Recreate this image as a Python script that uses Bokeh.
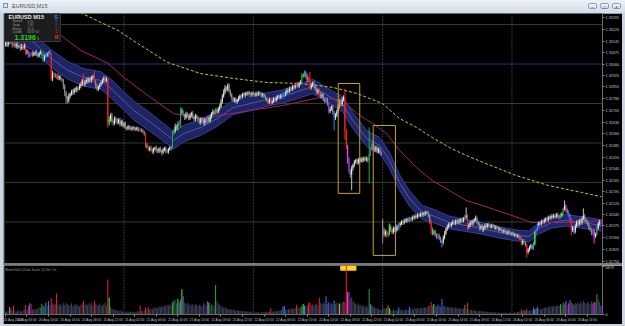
from bokeh.plotting import figure
from bokeh.models import Range1d, FixedTicker, PrintfTickFormatter, Span, Label, Div, ColumnDataSource
from bokeh.layouts import column
from bokeh.embed import file_html
from bokeh.resources import INLINE

# ---------------- data (prices in points above BASE) ----------------
BASE = 1.31700
POINT = 0.00001

close_pts = [
    1432, 1418, 1440, 1452, 1436, 1421, 1430, 1412, 1425, 1408, 1415, 1398, 1410, 1402, 1420, 1372, 1380, 1350, 1362, 1371,
    1358, 1366, 1375, 1360, 1352, 1368, 1374, 1361, 1330, 1345, 1356, 1362, 1375, 1368, 1205, 1240, 1232, 1220, 1228, 1210,
    1218, 1205, 1200, 1160, 1120, 1085, 1070, 1095, 1110, 1125, 1118, 1140, 1132, 1150, 1145, 1160, 1172, 1195, 1170, 1185,
    1200, 1190, 1208, 1195, 1215, 1222, 1185, 1160, 1140, 1155, 1170, 1182, 1200, 1210, 1195, 1205, 930, 950, 975, 940,
    925, 955, 942, 930, 948, 920, 935, 910, 925, 898, 890, 905, 895, 888, 900, 892, 885, 896, 890, 880,
    885, 878, 872, 860, 790, 775, 760, 770, 758, 745, 762, 770, 755, 748, 765, 752, 740, 758, 768, 750,
    745, 760, 772, 765, 860, 875, 905, 890, 920, 935, 1010, 990, 975, 960, 985, 970, 955, 978, 990, 965,
    950, 972, 960, 945, 930, 955, 940, 925, 950, 935, 960, 940, 965, 985, 1000, 990, 1010, 998, 1015, 1030,
    1060, 1095, 1120, 1150, 1140, 1165, 1130, 1105, 1085, 1070, 1078, 1060, 1072, 1085, 1100, 1095, 1110, 1102, 1115, 1108,
    1120, 1112, 1105, 1118, 1110, 1102, 1115, 1108, 1120, 1112, 1100, 1108, 1095, 1085, 1070, 1060, 1075, 1055, 1065, 1080,
    1070, 1085, 1095, 1088, 1100, 1092, 1110, 1105, 1120, 1135, 1128, 1145, 1140, 1155, 1150, 1165, 1172, 1160, 1178, 1185,
    1225, 1230, 1245, 1220, 1195, 1210, 1150, 1165, 1178, 1160, 1140, 1120, 1135, 1110, 1095, 1105, 1080, 1065, 1075, 1050,
    1000, 1015, 1030, 995, 960, 975, 1000, 1030, 1060, 1045, 1075, 1090, 880, 780, 700, 620, 600, 640, 660, 680,
    690, 675, 695, 685, 700, 690, 705, 695, 700, 690, 730, 760, 790, 770, 755, 770, 745, 760, 740, 730,
    250, 220, 240, 215, 230, 270, 250, 235, 260, 245, 270, 255, 280, 290, 300, 295, 310, 305, 318, 310,
    322, 315, 330, 325, 338, 332, 345, 340, 350, 345, 355, 350, 362, 358, 340, 300, 250, 230, 240, 220,
    205, 215, 195, 180, 170, 200, 230, 255, 270, 285, 278, 290, 300, 292, 305, 298, 310, 302, 315, 308,
    320, 330, 340, 270, 280, 300, 290, 305, 315, 325, 300, 285, 260, 275, 250, 265, 280, 270, 285, 275,
    268, 280, 272, 260, 270, 262, 250, 258, 245, 238, 248, 235, 228, 240, 232, 225, 230, 218, 222, 210,
    215, 205, 195, 165, 180, 170, 155, 110, 125, 140, 150, 135, 160, 235, 255, 280, 295, 290, 305, 300,
    312, 320, 315, 330, 325, 338, 332, 340, 335, 345, 338, 330, 342, 350, 385, 400, 375, 360, 345, 320,
    250, 265, 240, 275, 300, 285, 310, 295, 320, 340, 315, 300, 290, 265, 250, 230, 245, 210, 220, 260,
    290, 300, 285,
]

wick_up_pts = [
    18, 12, 22, 10, 15, 20, 8, 14, 11, 16, 9, 13, 18, 7, 12, 10, 15, 9, 12, 8,
    14, 10, 7, 16, 12, 9, 13, 8, 11, 15, 10, 12, 8, 14, 0, 18, 9, 12, 7, 15,
    10, 13, 8, 6, 12, 9, 14, 18, 10, 12, 16, 9, 13, 11, 8, 15, 12, 10, 45, 14,
    11, 17, 9, 13, 10, 12, 37, 14, 16, 9, 12, 10, 8, 13, 15, 11, 10, 20, 12, 18,
    9, 14, 11, 16, 8, 12, 10, 15, 9, 11, 7, 10, 8, 12, 6, 9, 11, 7, 8, 10,
    9, 8, 11, 6, 5, 12, 10, 8, 14, 9, 11, 7, 13, 10, 8, 12, 9, 11, 7, 10,
    12, 9, 8, 10, 19, 14, 18, 12, 16, 10, 15, 12, 17, 10, 14, 9, 13, 11, 8, 12,
    10, 13, 9, 12, 15, 8, 11, 14, 9, 12, 13, 10, 16, 11, 14, 9, 12, 10, 13, 15,
    18, 14, 20, 16, 10, 12, 13, 9, 11, 8, 10, 12, 9, 11, 7, 10, 8, 12, 9, 10,
    8, 11, 9, 7, 10, 8, 12, 9, 10, 6, 9, 11, 8, 10, 7, 9, 12, 8, 10, 11,
    9, 12, 10, 8, 13, 11, 15, 9, 12, 14, 10, 13, 11, 15, 9, 12, 10, 14, 11, 13,
    15, 12, 14, 10, 18, 12, 40, 14, 11, 16, 10, 13, 9, 12, 15, 10, 13, 9, 11, 14,
    12, 16, 10, 13, 9, 15, 12, 18, 20, 14, 16, 12, 55, 10, 8, 12, 14, 16, 10, 12,
    9, 13, 10, 8, 12, 10, 9, 11, 13, 10, 169, 14, 12, 16, 10, 13, 9, 12, 10, 8,
    10, 14, 12, 9, 11, 20, 13, 10, 12, 9, 14, 11, 13, 10, 12, 9, 11, 13, 10, 12,
    11, 9, 12, 10, 13, 9, 11, 10, 12, 8, 10, 12, 9, 11, 10, 8, 12, 14, 11, 10,
    9, 13, 10, 12, 8, 15, 12, 10, 14, 11, 12, 9, 13, 10, 12, 11, 9, 12, 10, 13,
    12, 15, 52, 10, 12, 9, 13, 11, 10, 16, 10, 9, 12, 8, 11, 10, 9, 12, 8, 10,
    9, 10, 8, 11, 9, 7, 10, 8, 9, 7, 10, 8, 9, 11, 7, 9, 8, 10, 7, 9,
    8, 10, 9, 7, 12, 10, 8, 9, 11, 10, 12, 9, 14, 11, 10, 12, 9, 13, 10, 11,
    12, 10, 13, 11, 9, 12, 10, 13, 11, 12, 14, 10, 13, 12, 7, 36, 12, 10, 14, 11,
    9, 12, 10, 14, 11, 13, 10, 12, 15, 46, 11, 10, 13, 9, 12, 10, 14, 11, 13, 15,
    12, 14, 10,
]

wick_dn_pts = [
    14, 10, 9, 16, 12, 18, 11, 9, 14, 12, 10, 15, 8, 13, 11, 15, 12, 10, 9, 14,
    12, 9, 15, 11, 13, 10, 8, 14, 20, 12, 9, 11, 13, 10, 10, 14, 12, 9, 16, 11,
    13, 10, 15, 18, 22, 35, 20, 14, 12, 10, 15, 11, 9, 13, 12, 10, 14, 11, 9, 12,
    10, 13, 11, 9, 14, 12, 8, 15, 12, 10, 13, 11, 9, 14, 10, 12, 32, 18, 14, 16,
    15, 12, 18, 14, 11, 16, 13, 10, 14, 12, 11, 9, 13, 10, 12, 8, 11, 9, 12, 10,
    12, 9, 11, 14, 20, 12, 10, 13, 11, 14, 12, 10, 15, 11, 13, 12, 19, 10, 12, 14,
    11, 13, 9, 12, 0, 10, 12, 9, 11, 13, 40, 12, 10, 14, 11, 13, 12, 10, 15, 11,
    12, 14, 10, 13, 11, 15, 12, 10, 14, 11, 13, 12, 9, 11, 10, 12, 9, 13, 11, 10,
    8, 10, 9, 12, 11, 14, 16, 12, 15, 11, 13, 10, 12, 9, 11, 10, 12, 9, 11, 10,
    9, 11, 10, 12, 8, 10, 9, 11, 10, 12, 9, 13, 10, 14, 12, 15, 11, 13, 10, 12,
    11, 10, 12, 9, 11, 10, 13, 12, 10, 11, 9, 12, 10, 11, 13, 9, 12, 10, 11, 9,
    10, 12, 11, 14, 13, 11, 15, 12, 10, 14, 12, 11, 13, 15, 12, 10, 14, 12, 11, 15,
    14, 12, 10, 16, 81, 14, 12, 10, 11, 13, 12, 10, 60, 20, 30, 13, 20, 100, 15, 12,
    11, 14, 10, 12, 9, 13, 11, 10, 12, 14, 146, 12, 10, 13, 11, 14, 12, 10, 13, 11,
    86, 14, 12, 13, 10, 12, 14, 11, 13, 10, 12, 11, 9, 12, 10, 13, 11, 9, 12, 10,
    11, 10, 12, 9, 11, 10, 12, 11, 9, 10, 12, 11, 10, 9, 12, 15, 30, 14, 12, 13,
    12, 14, 11, 13, 31, 12, 10, 13, 11, 12, 10, 13, 11, 9, 12, 10, 11, 13, 10, 12,
    11, 10, 12, 25, 14, 12, 10, 13, 11, 12, 14, 11, 15, 10, 13, 11, 12, 10, 11, 9,
    10, 9, 11, 8, 10, 9, 12, 8, 10, 11, 9, 10, 8, 11, 9, 10, 12, 9, 11, 10,
    9, 11, 10, 14, 12, 13, 11, 35, 14, 12, 13, 11, 12, 10, 13, 12, 11, 10, 12, 11,
    10, 12, 11, 13, 10, 12, 11, 10, 12, 11, 13, 12, 10, 11, 9, 12, 14, 13, 12, 15,
    35, 14, 16, 13, 12, 14, 11, 13, 12, 10, 14, 12, 13, 15, 12, 14, 13, 46, 12, 10,
    11, 13, 12,
]

volume = [
    420, 380, 510, 1100, 900, 460, 1300, 520, 390, 610, 480, 550, 430, 620, 700, 1400, 680, 1200, 1600, 1500,
    760, 640, 820, 700, 910, 1050, 980, 1500, 1200, 1100, 1700, 1250, 1900, 1400, 2300, 1600, 1350, 1500, 3000, 1450,
    1300, 1550, 1200, 1650, 1400, 1750, 1500, 1250, 1380, 1600, 1180, 1420, 1300, 1550, 1250, 1100, 1400, 1650, 1900, 1350,
    1500, 1280, 1600, 1420, 1750, 1300, 2000, 1550, 1400, 1250, 1600, 1350, 1200, 1450, 1700, 1300, 5000, 2400, 1100, 900,
    800, 650, 700, 560, 480, 620, 520, 400, 350, 300, 420, 380, 310, 450, 360, 280, 400, 330, 470, 380,
    1300, 520, 460, 600, 1000, 700, 1100, 650, 820, 760, 900, 1050, 880, 980, 1150, 1020, 1250, 1100, 1300, 1180,
    1400, 1250, 1500, 1350, 1700, 2000, 2100, 1600, 2200, 1800, 2100, 3600, 2600, 1700, 1500, 1650, 1400, 1550, 1300, 1450,
    1250, 1500, 1350, 1200, 1400, 1300, 1150, 1600, 1450, 1250, 1900, 1700, 1300, 1500, 1400, 1250, 4200, 1900, 1600, 1350,
    1200, 1100, 950, 1050, 880, 760, 820, 700, 640, 720, 600, 560, 650, 520, 480, 580, 450, 520, 420, 380,
    460, 400, 350, 420, 300, 260, 340, 280, 320, 250, 300, 360, 280, 330, 400, 350, 420, 900, 380, 450,
    420, 520, 480, 560, 650, 600, 1100, 1200, 720, 680, 800, 750, 900, 850, 780, 950, 1400, 1000, 1100, 950,
    1200, 1500, 1300, 1150, 1250, 1600, 1700, 1350, 1450, 1200, 1550, 1400, 1300, 2400, 1650, 1500, 1700, 1450, 2600, 1550,
    1800, 1500, 1650, 1400, 2000, 1550, 1700, 1450, 1600, 1500, 1750, 1900, 1800, 9500, 3200, 3200, 2200, 2500, 1900, 1700,
    1500, 1350, 1600, 1250, 1400, 1150, 1300, 1050, 1200, 1000, 3600, 1500, 1300, 950, 1100, 850, 900, 780, 700, 650,
    1300, 900, 750, 1000, 1300, 900, 680, 600, 720, 550, 640, 580, 1000, 620, 700, 560, 650, 600, 720, 680,
    1100, 750, 820, 700, 880, 760, 950, 850, 900, 1000, 920, 1050, 980, 1100, 1200, 1350, 1800, 1300, 1500, 1200,
    1100, 1400, 1250, 1150, 2200, 1300, 1200, 1050, 1150, 1000, 1100, 950, 1050, 900, 1000, 880, 950, 820, 900, 800,
    850, 1400, 900, 1700, 700, 620, 680, 560, 600, 520, 480, 560, 450, 500, 420, 380, 450, 360, 400, 330,
    380, 300, 350, 280, 320, 260, 300, 240, 280, 230, 260, 300, 250, 220, 280, 240, 300, 260, 330, 290,
    360, 420, 380, 700, 450, 650, 500, 800, 550, 600, 520, 650, 1000, 700, 900, 1100, 750, 820, 700, 880,
    950, 1050, 900, 1150, 1000, 1200, 1100, 1300, 1150, 1250, 1350, 1200, 1500, 1300, 1700, 1450, 1900, 1400, 1600, 2100,
    1800, 1500, 1400, 1650, 1550, 1750, 1500, 1850, 1600, 1950, 1700, 1550, 1800, 1650, 1500, 1900, 1600, 1800, 1700, 2900,
    2200, 1800, 1300,
]

first_open_pts = 1425
gap_bar = 280          # Monday 25 Aug 00:00 open after the weekend
gap_open_pts = 310

red_bars = [6, 15, 19, 34, 36, 38, 58, 66, 76, 100, 104, 106, 197, 216, 225, 226, 233, 252, 253, 283, 316, 343, 383, 387, 420]
lime_bars = [77, 128, 131, 151, 221, 285, 318, 393]
green_bars = [3, 27, 28, 124, 125, 130, 156, 220, 270, 272, 284, 341, 385, 412, 414, 439]
blue_bars = [18, 30, 32, 206, 207, 222, 238, 244, 292, 300, 324, 392, 395, 419, 422]
purple_bars = [4, 17, 129, 132, 150, 240, 255, 271, 321, 394, 418, 436, 442]
magenta_bars = [254, 416, 437]
gold_bars = [248]

price_labels = ["1.33295", "1.33220", "1.33145", "1.33075", "1.33000", "1.32925", "1.32855", "1.32780",
                "1.32705", "1.32630", "1.32560", "1.32485", "1.32410", "1.32340", "1.32265", "1.32195",
                "1.32120", "1.32045", "1.31975", "1.31900", "1.31825", "1.31750"]
time_labels = ["20 Aug 2014", "20 Aug 06:00", "20 Aug 10:00", "20 Aug 14:00", "20 Aug 18:00", "20 Aug 22:00",
               "21 Aug 02:00", "21 Aug 06:00", "21 Aug 10:00", "21 Aug 14:00", "21 Aug 18:00", "21 Aug 22:00",
               "22 Aug 02:00", "22 Aug 06:00", "22 Aug 10:00", "22 Aug 14:00", "22 Aug 18:00", "22 Aug 22:00",
               "25 Aug 02:00", "25 Aug 06:00", "25 Aug 10:00", "25 Aug 14:00", "25 Aug 18:00", "25 Aug 22:00",
               "26 Aug 02:00", "26 Aug 06:00", "26 Aug 10:00", "26 Aug 14:00"]
LABEL_STEP_BARS = 16
day_start_bars = [88, 184, 280, 376]

# moving-average band (centre and half width, points) read at bar positions
band_bar = [0, 19.2, 34, 46.5, 58.3, 70.9, 78.3, 95.3, 107.8, 120.4, 124.8, 132.2, 144.8, 157.3, 169.1, 181.7,
            194.2, 206.1, 228.2, 243, 250.4, 257.8, 268.1, 277.7, 285.1, 292.5, 299.9, 309.5, 316.8, 329.4,
            342, 353.8, 366.3, 378.9, 388.5, 395.9, 405.5, 415.8, 427.6, 442.4]
band_pts = [1525, 1449, 1335, 1259, 1215, 1196, 1145, 1006, 930, 848, 816, 860, 898, 955, 1025, 1050,
            1076, 1095, 1158, 1082, 1044, 943, 829, 785, 690, 550, 449, 360, 341, 297,
            278, 259, 234, 215, 208, 259, 297, 310, 297, 278]
band_half_pts = [55, 55, 55, 55, 55, 55, 58, 60, 58, 55, 55, 52, 50, 48, 45, 45, 42, 42, 45, 45,
                 48, 50, 50, 50, 50, 50, 48, 45, 42, 40, 38, 36, 35, 35, 35, 35, 35, 36, 36, 36]

ma_slow_bar = [26.6, 39.1, 56.1, 76.1, 87.9, 107.8, 124.8, 144.8, 159.5, 181.7, 206.1, 233.4, 250.4, 260.7,
               272.5, 282.9, 292.5, 305, 316.8, 329.4, 342, 353.8, 371.5, 390.7, 405.5, 423.2, 442.4]
ma_slow_pts = [1563, 1494, 1386, 1304, 1215, 1088, 987, 955, 974, 1006, 1038, 1088, 1069, 987,
               924, 860, 753, 645, 563, 500, 436, 405, 354, 297, 297, 297, 310]

ma_long_bar = [52.4, 70.9, 83.5, 100.4, 120.4, 144.8, 169.1, 194.2, 218.6, 243, 260.7, 279.9, 292.5, 305,
               316.8, 329.4, 342, 356.7, 378.9, 403, 427.6, 442.4]
ma_long_pts = [1639, 1563, 1513, 1418, 1310, 1240, 1209, 1183, 1177, 1152, 1114, 1050, 955, 899,
               835, 772, 721, 670, 595, 531, 487, 460]

level_prices = [1.3325, 1.3300, 1.3275, 1.3250, 1.3225, 1.3200]
level_colors = ["#3c3c24", "#2e2b7a", "#3c3c24", "#26402a", "#3c3c24", "#3c3c24"]

box_left_bar = [247, 273]
box_right_bar = [263, 289.5]
box_top_pts = [1177, 911]
box_bottom_pts = [481, 88]

vol_axis_ticks = [0, 6879]

# ---------------- styling / layout ----------------
FONT = "Liberation Sans"
C_RED, C_LIME, C_GREEN = "#ff1f1f", "#3dff3d", "#20b040"
C_BLUE, C_PURPLE, C_MAGENTA, C_GOLD = "#1e8fff", "#9b35ff", "#ff40ff", "#d6a51c"
BULL, BULL_WICK = "#ececec", "#c4c4c4"
BEAR, BEAR_WICK = "#8e8e8e", "#8e8e8e"
VOL_DEFAULT = "#40435e"
CHROME = "#cbd5e1"

W_FIG = 619
H_MAIN = 250
H_VOL = 59
MB_L, MB_R = 1, 18
FRAME_W = W_FIG - MB_L - MB_R
X_START, X_END = -0.7, 443.2
Y_BOT, Y_TOP = 1.31737, 1.33320
FRAME_X0, FRAME_Y0 = 3 + MB_L, 13


def price(v):
    return BASE + v * POINT


def bx(px):
    return X_START + (px - FRAME_X0) * (X_END - X_START) / FRAME_W


def py(pyv):
    return Y_TOP - (pyv - FRAME_Y0) * (Y_TOP - Y_BOT) / H_MAIN


n = min(len(close_pts), len(wick_up_pts), len(wick_dn_pts), len(volume))
bar_color = {}
for bars, col in ((green_bars, C_GREEN), (lime_bars, C_LIME), (blue_bars, C_BLUE), (purple_bars, C_PURPLE),
                  (magenta_bars, C_MAGENTA), (gold_bars, C_GOLD), (red_bars, C_RED)):
    for b in bars:
        bar_color[b] = col

cd = dict(x=[], top=[], bottom=[], high=[], low=[], body=[], wick=[], vol=[], vcol=[])
for i in range(n):
    if i == 0:
        o = first_open_pts
    elif i == gap_bar:
        o = gap_open_pts
    else:
        o = close_pts[i - 1]
    c = close_pts[i]
    top, bot = max(o, c), min(o, c)
    hi, lo = top + wick_up_pts[i], bot - wick_dn_pts[i]
    if top - bot < 3:
        top = bot + 3
    if i in bar_color:
        bc = wc = vc = bar_color[i]
    elif c >= o:
        bc, wc, vc = BULL, BULL_WICK, VOL_DEFAULT
    else:
        bc, wc, vc = BEAR, BEAR_WICK, VOL_DEFAULT
    cd["x"].append(i)
    cd["top"].append(price(top))
    cd["bottom"].append(price(bot))
    cd["high"].append(price(hi))
    cd["low"].append(price(lo))
    cd["body"].append(bc)
    cd["wick"].append(wc)
    cd["vol"].append(volume[i])
    cd["vcol"].append(vc)
src = ColumnDataSource(cd)

# ---------------- main price panel ----------------
p = figure(width=W_FIG, height=H_MAIN, x_range=Range1d(X_START, X_END), y_range=Range1d(Y_BOT, Y_TOP),
           output_backend="svg", toolbar_location=None, x_axis_location=None, y_axis_location="right",
           min_border_left=MB_L, min_border_right=MB_R, min_border_top=0, min_border_bottom=0,
           background_fill_color="black", border_fill_color="black", outline_line_color=None,
           margin=(0, 3, 0, 3))
p.grid.visible = False
ya = p.yaxis[0]
ya.ticker = FixedTicker(ticks=[float(s) for s in price_labels])
ya.formatter = PrintfTickFormatter(format="%.5f")
ya.major_label_text_font_size = "3.8px"
ya.major_label_text_font = FONT
ya.major_label_text_color = "#c0c0c0"
ya.major_tick_out = 2
ya.major_tick_in = 0
ya.major_label_standoff = 1
ya.minor_tick_line_color = None
ya.major_tick_line_color = "#8a8a8a"
ya.axis_line_color = "#6a6a6a"

for lp, lc in zip(level_prices, level_colors):
    p.add_layout(Span(location=lp, dimension="width", line_color=lc, line_width=1, level="underlay"))
for db in day_start_bars:
    p.add_layout(Span(location=db, dimension="height", line_color="#6a6a6a", line_width=1,
                      line_dash="1 2", level="underlay"))

# band
b_up = [price(c + h) for c, h in zip(band_pts, band_half_pts)]
b_lo = [price(c - h) for c, h in zip(band_pts, band_half_pts)]
p.varea(x=band_bar, y1=b_lo, y2=b_up, fill_color="#1c2160", fill_alpha=1)
for frac, col, lw in ((0.66, "#283075", 0.6), (0.33, "#2b337c", 0.6)):
    p.line(band_bar, [price(c + h * frac) for c, h in zip(band_pts, band_half_pts)], line_color=col, line_width=lw)
    p.line(band_bar, [price(c - h * frac) for c, h in zip(band_pts, band_half_pts)], line_color=col, line_width=lw)
p.line(band_bar, b_up, line_color="#39429a", line_width=1)
p.line(band_bar, b_lo, line_color="#39429a", line_width=1)
p.line(band_bar, [price(c) for c in band_pts], line_color="#8686c4", line_width=0.6)

p.line(ma_slow_bar, [price(v) for v in ma_slow_pts], line_color="#a0246a", line_width=1)
p.line(ma_long_bar, [price(v) for v in ma_long_pts], line_color="#c8c81e", line_width=1, line_dash="3 2")

p.segment(x0="x", y0="low", x1="x", y1="high", line_color="wick", line_width=1, source=src)
p.vbar(x="x", top="top", bottom="bottom", width=0.72, fill_color="body", line_color=None, source=src)

p.quad(left=box_left_bar, right=box_right_bar, top=[price(v) for v in box_top_pts],
       bottom=[price(v) for v in box_bottom_pts], fill_alpha=0, line_color="#c9a227", line_width=1)

# info panel (screen overlay, placed in pixels)
p.quad(left=[bx(4)], right=[bx(60)], top=[py(13)], bottom=[py(41)], fill_color="#1d1d1d",
       line_color="#3c3c3c", line_width=1)
info = [
    (8, 16.5, "EURUSD  M15", "5.5px", "bold", "#e8e8e8"),
    (54, 16.5, "S", "5.5px", "bold", "#2f8fe8"),
    (12, 20.6, "Spread", "3px", "normal", "#9a9a9a"),
    (27, 20.6, "0.10", "3px", "normal", "#9a9a9a"),
    (12, 24.2, "Swap", "3px", "normal", "#9a9a9a"),
    (27, 24.2, "1.90", "3px", "normal", "#9a9a9a"),
    (12, 27.8, "Range", "3px", "normal", "#9a9a9a"),
    (27, 27.8, "22.4", "3px", "normal", "#9a9a9a"),
    (12, 31.4, "Candle", "3px", "normal", "#9a9a9a"),
    (27, 31.4, "00:07:10", "3px", "normal", "#9a9a9a"),
    (55, 20.6, "o", "3.5px", "bold", "#3a6090"),
    (55, 24.2, "F", "3.5px", "bold", "#4a4a4a"),
    (55, 27.8, "L", "3.5px", "bold", "#a03030"),
    (55, 31.4, "C", "3.5px", "bold", "#c03030"),
    (14, 36.5, "1.3196", "7px", "bold", "#2ad12a"),
    (36.5, 37.5, "1", "4px", "bold", "#2ad12a"),
    (54.5, 36.5, "R", "5px", "bold", "#ff2a2a"),
]
for x_, y_, t_, fs_, st_, col_ in info:
    p.add_layout(Label(x=bx(x_), y=py(y_), text=t_, text_font_size=fs_, text_font_style=st_,
                       text_color=col_, text_font=FONT, text_baseline="middle"))

# separator between panels
sep = Div(text="", width=W_FIG, height=2, margin=(0, 3, 0, 3),
          styles={"background-color": "#7c7c7c", "overflow": "hidden"})

# ---------------- volume panel ----------------
pv = figure(width=W_FIG, height=H_VOL, x_range=p.x_range, y_range=Range1d(0, 7000),
            output_backend="svg", toolbar_location=None, y_axis_location="right",
            min_border_left=MB_L, min_border_right=MB_R, min_border_top=0, min_border_bottom=0,
            background_fill_color="black", border_fill_color="black", outline_line_color=None,
            margin=(0, 3, 2, 3))
pv.grid.visible = False
for db in day_start_bars:
    pv.add_layout(Span(location=db, dimension="height", line_color="#6a6a6a", line_width=1,
                       line_dash="1 2", level="underlay"))
pv.quad(left=[248.5], right=[260.5], bottom=[6250], top=[7000], fill_color="#ffd21f", line_color=None)
pv.vbar(x="x", top="vol", bottom=0, width=0.72, fill_color="vcol", line_color=None, source=src)
pv.add_layout(Label(x=bx(5), y=6450, text="BetterVol4   (Chart Scale: 2)   Vol: On", text_font_size="3.3px",
                    text_color="#9a9a9a", text_font=FONT, text_baseline="middle"))

xa = pv.xaxis[0]
tick_bars = [k * LABEL_STEP_BARS for k in range(len(time_labels))]
xa.ticker = FixedTicker(ticks=tick_bars)
xa.major_label_overrides = {b: t for b, t in zip(tick_bars, time_labels)}
xa.major_label_text_font_size = "3.3px"
xa.major_label_text_font = FONT
xa.major_label_text_color = "#c0c0c0"
xa.major_label_text_align = "left"
xa.major_label_standoff = 1
xa.major_tick_out = 2
xa.major_tick_in = 0
xa.minor_tick_line_color = None
xa.major_tick_line_color = "#8a8a8a"
xa.axis_line_color = "#6a6a6a"

va = pv.yaxis[0]
va.ticker = FixedTicker(ticks=vol_axis_ticks)
va.major_label_text_font_size = "3.8px"
va.major_label_text_font = FONT
va.major_label_text_color = "#c0c0c0"
va.major_tick_out = 2
va.major_tick_in = 0
va.major_label_standoff = 1
va.minor_tick_line_color = None
va.major_tick_line_color = "#8a8a8a"
va.axis_line_color = "#6a6a6a"

# ---------------- window title bar ----------------
btn = ('<div style="position:absolute;left:{l}px;top:3px;width:9px;height:6px;border:1px solid #8d9db3;'
       'border-radius:2px;background:linear-gradient(#f4f7fb,#dce4ee);font-size:5px;line-height:6px;'
       'text-align:center;color:#44505e;">{t}</div>')
title_html = (
    '<div style="position:relative;width:625px;height:13px;overflow:hidden;'
    'background:linear-gradient(#eef2f7,#d3dce8);font-family:\'Liberation Sans\',sans-serif;">'
    '<div style="position:absolute;left:3px;top:3px;width:5px;height:5px;border:1px solid #6f93c4;'
    'background:#dbe6f5;"></div>'
    '<div style="position:absolute;left:12px;top:2px;font-size:5.5px;line-height:8px;color:#4e4e4e;">EURUSD,M15</div>'
    + btn.format(l=588, t="&ndash;") + btn.format(l=600, t="&#9633;") + btn.format(l=612, t="&times;")
    + '</div>'
)
title_bar = Div(text=title_html, width=625, height=13, margin=(0, 0, 0, 0))

layout = column(title_bar, p, sep, pv, spacing=0, styles={"background-color": CHROME})

open("out.html", "w").write(file_html(layout, INLINE))
